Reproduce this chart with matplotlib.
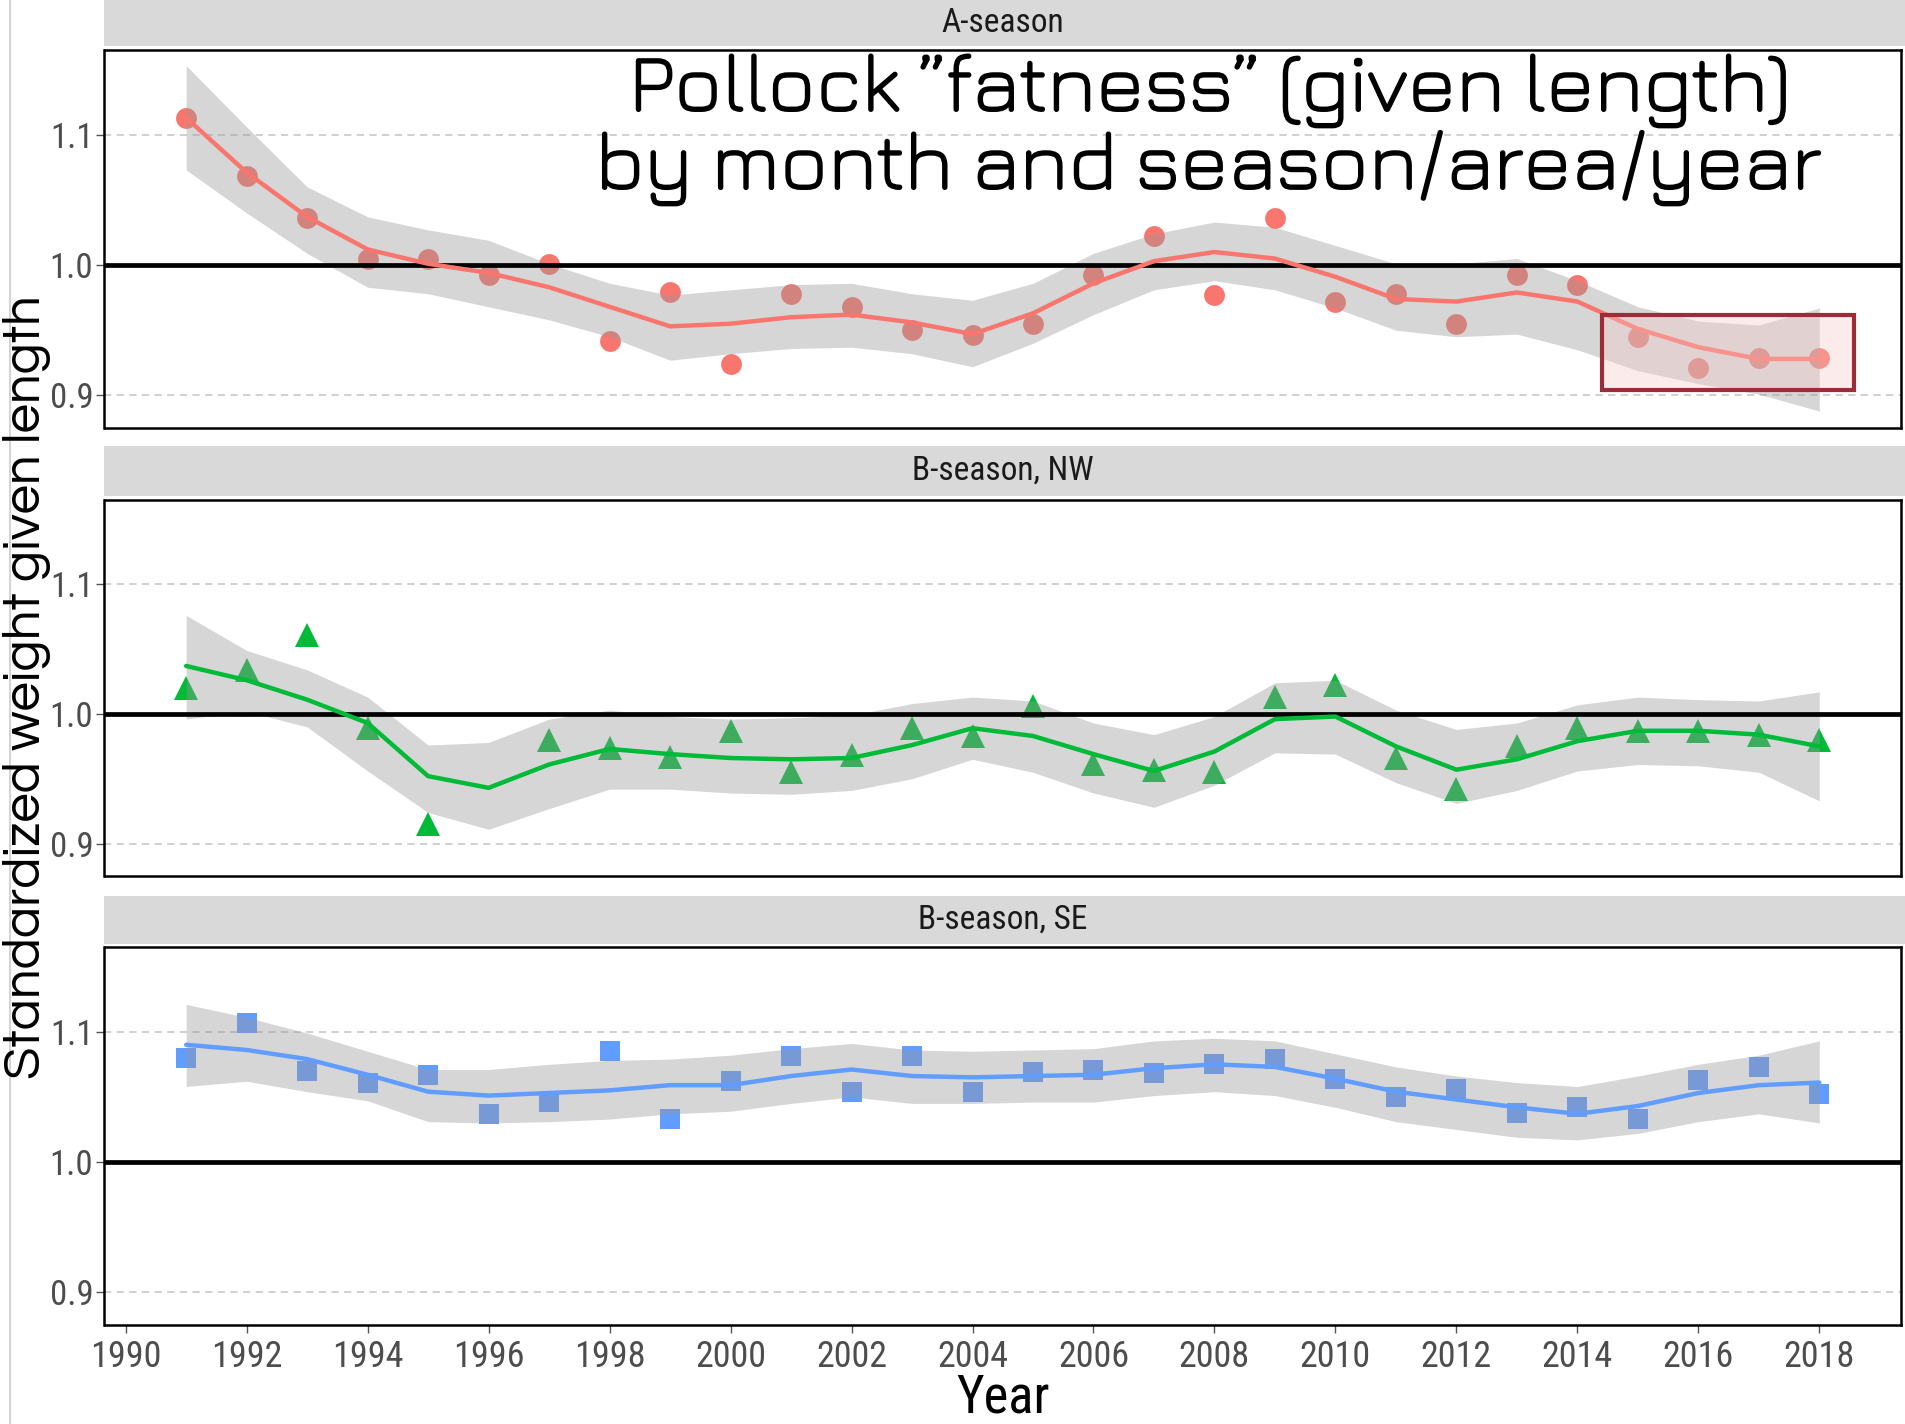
import numpy as np
import matplotlib.pyplot as plt
import matplotlib.patheffects as pe
from matplotlib.patches import Rectangle
from matplotlib.lines import Line2D

years = list(range(1991, 2019))

# A-season
a_pts = [1.113, 1.068, 1.036, 1.005, 1.005, 0.992, 1.001, 0.942, 0.979, 0.924,
         0.978, 0.968, 0.950, 0.946, 0.955, 0.992, 1.022, 0.977, 1.036, 0.972,
         0.978, 0.955, 0.992, 0.985, 0.945, 0.921, 0.929, 0.929]
a_fit = [1.113, 1.071, 1.037, 1.012, 1.001, 0.994, 0.983, 0.968, 0.953, 0.955,
         0.960, 0.962, 0.956, 0.947, 0.963, 0.986, 1.003, 1.010, 1.005, 0.991,
         0.974, 0.972, 0.979, 0.972, 0.951, 0.937, 0.928, 0.928]
a_lo = [1.073, 1.040, 1.009, 0.983, 0.978, 0.968, 0.958, 0.945, 0.927, 0.932,
        0.936, 0.937, 0.932, 0.922, 0.940, 0.962, 0.981, 0.988, 0.981, 0.967,
        0.950, 0.945, 0.947, 0.935, 0.919, 0.909, 0.901, 0.888]
a_hi = [1.153, 1.106, 1.060, 1.037, 1.027, 1.019, 1.001, 0.986, 0.977, 0.981,
        0.985, 0.986, 0.978, 0.973, 0.986, 1.009, 1.024, 1.033, 1.029, 1.015,
        1.001, 1.001, 1.005, 0.988, 0.968, 0.957, 0.954, 0.967]

# B-season, NW (no point for 1996)
nw_pts = [1.020, 1.034, 1.061, 0.989, 0.915, np.nan, 0.980, 0.974, 0.967, 0.987,
          0.955, 0.968, 0.989, 0.983, 1.006, 0.961, 0.957, 0.955, 1.013, 1.022,
          0.966, 0.942, 0.975, 0.989, 0.987, 0.987, 0.984, 0.980]
nw_fit = [1.037, 1.026, 1.011, 0.993, 0.952, 0.943, 0.961, 0.973, 0.969, 0.966,
          0.965, 0.966, 0.976, 0.989, 0.983, 0.969, 0.956, 0.971, 0.996, 0.998,
          0.975, 0.957, 0.965, 0.979, 0.987, 0.987, 0.984, 0.975]
nw_lo = [0.996, 1.002, 0.990, 0.956, 0.924, 0.911, 0.927, 0.942, 0.942, 0.939,
         0.938, 0.941, 0.950, 0.965, 0.955, 0.939, 0.928, 0.945, 0.970, 0.969,
         0.947, 0.931, 0.941, 0.956, 0.961, 0.960, 0.955, 0.933]
nw_hi = [1.076, 1.049, 1.034, 1.013, 0.976, 0.978, 0.996, 1.003, 0.998, 0.996,
         0.997, 0.999, 1.008, 1.013, 1.010, 0.993, 0.984, 0.998, 1.024, 1.026,
         1.003, 0.988, 0.993, 1.007, 1.013, 1.011, 1.010, 1.017]

# B-season, SE
se_pts = [1.080, 1.107, 1.070, 1.061, 1.067, 1.037, 1.046, 1.085, 1.033, 1.062,
          1.081, 1.054, 1.081, 1.054, 1.069, 1.071, 1.068, 1.075, 1.079, 1.064,
          1.050, 1.056, 1.038, 1.042, 1.033, 1.063, 1.073, 1.052]
se_fit = [1.090, 1.086, 1.079, 1.067, 1.054, 1.051, 1.053, 1.055, 1.059, 1.059,
          1.066, 1.071, 1.066, 1.065, 1.066, 1.067, 1.072, 1.075, 1.073, 1.064,
          1.054, 1.048, 1.042, 1.037, 1.043, 1.053, 1.059, 1.061]
se_lo = [1.058, 1.062, 1.054, 1.047, 1.031, 1.030, 1.031, 1.033, 1.037, 1.039,
         1.045, 1.050, 1.045, 1.045, 1.046, 1.046, 1.051, 1.054, 1.051, 1.042,
         1.031, 1.025, 1.019, 1.017, 1.022, 1.031, 1.037, 1.030]
se_hi = [1.121, 1.111, 1.099, 1.085, 1.071, 1.071, 1.075, 1.078, 1.079, 1.082,
         1.087, 1.091, 1.086, 1.085, 1.086, 1.087, 1.093, 1.095, 1.093, 1.083,
         1.073, 1.066, 1.061, 1.058, 1.066, 1.075, 1.082, 1.093]

panels = [
    ("A-season", a_pts, a_fit, a_lo, a_hi, "#F8766D", "o", 15),
    ("B-season, NW", nw_pts, nw_fit, nw_lo, nw_hi, "#00BA38", "^", 17),
    ("B-season, SE", se_pts, se_fit, se_lo, se_hi, "#619CFF", "s", 14),
]

narrow = ['Roboto Condensed', 'Archivo Narrow', 'PT Sans Narrow', 'Liberation Sans']
title_font = ['Jura', 'Exo 2', 'Lato']
ylab_font = ['Questrial', 'Didact Gothic', 'DejaVu Sans']

W, H = 1906, 1424
fig = plt.figure(figsize=(W / 100, H / 100), dpi=100)

left = 104.5 / W
width = (1901 - 104.5) / W
ax_tops = [50, 500, 947]
ax_bots = [428, 876, 1325]
strip_tops = [0, 446, 896]
strip_bots = [46, 496, 944]

axes = []
for i, (name, pts, fit, lo, hi, col, mk, ms) in enumerate(panels):
    # facet strip
    sax = fig.add_axes([left, 1 - strip_bots[i] / H, 1 - left,
                        (strip_bots[i] - strip_tops[i]) / H])
    sax.set_facecolor('#D9D9D9')
    sax.set_xticks([])
    sax.set_yticks([])
    for s in sax.spines.values():
        s.set_visible(False)
    sax.text(0.5 * width / (1 - left), 0.5, name, ha='center', va='center',
             fontsize=24, color='#1A1A1A', family=narrow)

    ax = fig.add_axes([left, 1 - ax_bots[i] / H, width,
                       (ax_bots[i] - ax_tops[i]) / H])
    ax.plot(years, pts, ls='none', marker=mk, ms=ms, color=col, mew=0, zorder=2)
    ax.fill_between(years, lo, hi, color='#999999', alpha=0.4, lw=0, zorder=3)
    ax.axhline(1.0, color='black', lw=3.4, zorder=3.5)
    ax.plot(years, fit, color=col, lw=3.2, zorder=4, solid_capstyle='round',
            solid_joinstyle='round')

    ax.set_xlim(1989.65, 2019.35)
    ax.set_ylim(0.875, 1.165)
    ax.set_yticks([0.9, 1.0, 1.1])
    ax.set_yticklabels(['0.9', '1.0', '1.1'], family=narrow)
    ax.grid(axis='y', ls=(0, (4, 3)), color='#CDCDCD', lw=1.3, zorder=0)
    ax.tick_params(axis='y', labelsize=25, labelcolor='#4D4D4D', color='#555555',
                   length=6, width=1, pad=2)
    for s in ax.spines.values():
        s.set_color('black')
        s.set_linewidth(1.8)
    if i < 2:
        ax.set_xticks([])
    else:
        ax.set_xticks(range(1990, 2019, 2))
        ax.set_xticklabels([str(y) for y in range(1990, 2019, 2)], family=narrow)
        ax.tick_params(axis='x', labelsize=26, labelcolor='#4D4D4D', color='#555555',
                       length=6, width=1, pad=4)
        ax.set_xlabel('Year', fontsize=38, family=narrow, labelpad=-2)
    axes.append(ax)

# highlight box on the last A-season years
axes[0].add_patch(Rectangle((2014.41, 0.904), 4.17, 0.058, facecolor='#F6C9C6',
                            alpha=0.35, edgecolor='none', zorder=5))
axes[0].add_patch(Rectangle((2014.41, 0.904), 4.17, 0.058, facecolor='none',
                            edgecolor='#9E2B38', lw=3, zorder=6))

bold = [pe.withStroke(linewidth=1.4, foreground='black')]
fig.text(1209 / W, 1 - 91 / H, 'Pollock \u201dfatness\u201d (given length)',
         ha='center', va='center', fontsize=59, weight='bold', family=title_font,
         path_effects=bold)
fig.text(1208 / W, 1 - 168 / H, 'by month and season/area/year',
         ha='center', va='center', fontsize=59, weight='bold', family=title_font,
         path_effects=bold)

fig.text(27 / W, 1 - 687 / H, 'Standardized weight given length', rotation=90,
         ha='center', va='center', fontsize=38, family=ylab_font)

fig.add_artist(Line2D([10 / W, 10 / W], [0, 1], color='#D5D5D5', lw=1.5))

fig.savefig('out.png', dpi=100)
